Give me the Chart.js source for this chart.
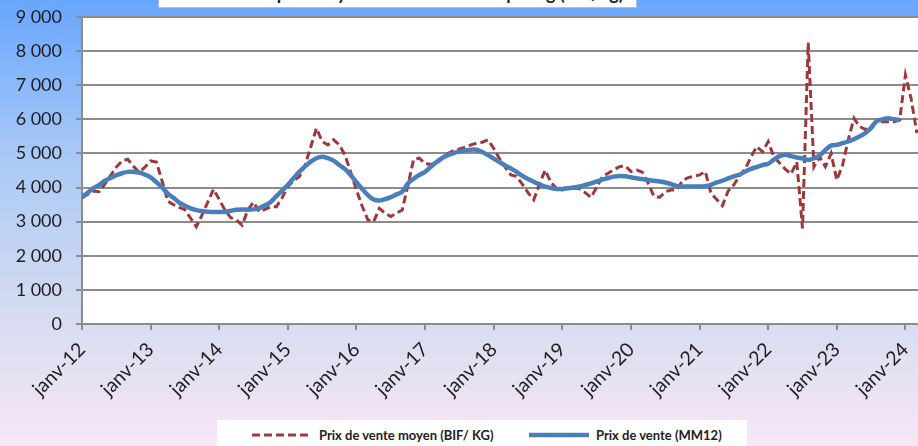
<!DOCTYPE html>
<html>
<head>
<meta charset="utf-8">
<script src="https://cdn.jsdelivr.net/npm/chart.js@4.4.0/dist/chart.umd.min.js"></script>
<style>
    html, body { margin: 0; padding: 0; }
    #cadre {
        position: relative; width: 918px; height: 446px; overflow: hidden;
        background: linear-gradient(to bottom, #68a6ff 0%, #a9c9f6 35%, #d6dcf0 70%, #f7e6f6 100%);
        font-family: Lato, "Open Sans", sans-serif;
    }
    #titre {
        position: absolute; left: 158px; top: -18px; width: 477px; height: 24px;
        background: #fff; border: 1px solid #9cc3f5; overflow: hidden;
        font: bold 18px Lato, sans-serif; line-height: 20px; text-align: center; color: #222;
        white-space: nowrap;
    }
    #graphique { position: absolute; left: 0; top: 0; }
    #legende {
        position: absolute; left: 217px; top: 420px; width: 530px; height: 40px;
        background: #fff; font: bold 13px Lato, sans-serif; color: #222;
    }
    #legende .item { position: absolute; top: 7px; display: flex; align-items: center; }
    #legende svg { margin-right: 7px; }
</style>
</head>
<body>
<div id="cadre">
    <div id="titre">Évolution du prix moyen de vente du café par kg (BIF/kg)</div>
    <canvas id="graphique" width="918" height="446"></canvas>
    <div id="legende">
        <div class="item" style="left:35px">
            <svg width="60" height="6"><line x1="0" y1="3" x2="60" y2="3" stroke="#9b3a3a" stroke-width="3" stroke-dasharray="8,4"/></svg>
            <span>Prix de vente moyen (BIF/ KG)</span>
        </div>
        <div class="item" style="left:312px">
            <svg width="60" height="6"><line x1="0" y1="3" x2="60" y2="3" stroke="#4a7ebb" stroke-width="4.5"/></svg>
            <span>Prix de vente (MM12)</span>
        </div>
    </div>
</div>
<script>
// --- Données (un point par mois, janv-12 -> mars-24) ---
const etiquettesJanv = ["janv-12", "janv-13", "janv-14", "janv-15", "janv-16", "janv-17", "janv-18",
                        "janv-19", "janv-20", "janv-21", "janv-22", "janv-23", "janv-24"];

const prixMoyen = [
    3700, 3800, 3900, 3880, 4100, 4350, 4600, 4780, 4830, 4620, 4450, 4600,   // 2012
    4780, 4750, 4200, 3600, 3500, 3420, 3350, 3100, 2850, 3200, 3570, 3950,   // 2013
    3650, 3340, 3120, 3050, 2900, 3340, 3570, 3290, 3360, 3440, 3440, 3700,   // 2014
    4030, 4200, 4320, 4650, 5190, 5740, 5350, 5250, 5400, 5250, 4950, 4440,   // 2015
    3930, 3450, 3050, 3000, 3390, 3250, 3150, 3250, 3340, 4070, 4830, 4860,   // 2016
    4700, 4680, 4710, 4850, 5000, 5080, 5130, 5180, 5250, 5300, 5330, 5400,   // 2017
    5150, 4850, 4600, 4370, 4330, 4100, 3850, 3640, 4100, 4510, 4150, 3970,   // 2018
    3930, 4000, 3990, 3970, 3850, 3710, 4000, 4320, 4420, 4520, 4610, 4640,   // 2019
    4470, 4510, 4450, 4130, 3750, 3710, 3880, 3930, 3930, 4200, 4290, 4330,   // 2020
    4370, 4470, 3830, 3650, 3470, 3900, 4080, 4350, 4550, 4900, 5200, 5050,   // 2021
    5350, 4900, 4720, 4540, 4400, 4750, 2800, 8250, 4610, 4900, 4610, 5000,   // 2022
    4220, 4650, 5400, 6030, 5790, 5700, 5800, 5930, 5930, 5930, 5930, 5980,   // 2023
    7300, 6600, 5600                                                          // 2024
];

const prixMM12 = [
    3715, 3850, 3980, 4075, 4200, 4280, 4360, 4420, 4460, 4460, 4440, 4380,   // 2012
    4300, 4160, 4010, 3820, 3700, 3560, 3470, 3390, 3340, 3310, 3290, 3285,   // 2013
    3285, 3290, 3320, 3350, 3360, 3350, 3360, 3400, 3480, 3580, 3750, 3910,   // 2014
    4080, 4270, 4460, 4620, 4760, 4860, 4900, 4860, 4790, 4660, 4540, 4360,   // 2015
    4160, 3960, 3780, 3650, 3620, 3660, 3720, 3800, 3880, 4120, 4260, 4370,   // 2016
    4460, 4610, 4750, 4870, 4950, 5010, 5060, 5090, 5110, 5110, 5040, 4950,   // 2017
    4850, 4750, 4650, 4560, 4460, 4340, 4250, 4170, 4090, 4030, 3990, 3960,   // 2018
    3960, 3980, 4000, 4030, 4075, 4120, 4180, 4230, 4280, 4320, 4340, 4330,   // 2019
    4300, 4270, 4250, 4220, 4200, 4180, 4150, 4100, 4050, 4030, 4030, 4030,   // 2020
    4030, 4040, 4080, 4150, 4200, 4270, 4330, 4380, 4470, 4550, 4600, 4660,   // 2021
    4700, 4820, 4920, 4960, 4920, 4880, 4850, 4810, 4860, 4940, 5100, 5230,   // 2022
    5250, 5300, 5350, 5420, 5500, 5600, 5750, 5950, 6000, 6030, 6000, 5980    // 2023
];

const enPoints = (serie) => serie.map((v, i) => ({ x: i, y: v }));
const formatMilliers = (v) => String(v).replace(/\B(?=(\d{3})+(?!\d))/g, " ");

// fond blanc de la zone de tracé
const fondBlanc = {
    id: "fondBlanc",
    beforeDraw(chart) {
        const { ctx, chartArea: a } = chart;
        ctx.save();
        ctx.fillStyle = "#fff";
        ctx.fillRect(a.left, a.top, a.right - a.left, a.bottom - a.top);
        ctx.restore();
    }
};

const gris = "#8c8c8c";

new Chart(document.getElementById("graphique"), {
    type: "line",
    data: {
        datasets: [
            {
                label: "Prix de vente (MM12)",
                data: enPoints(prixMM12),
                borderColor: "#4a7ebb",
                borderWidth: 4.5,
                tension: 0.4,
                pointRadius: 0,
                order: 0
            },
            {
                label: "Prix de vente moyen (BIF/ KG)",
                data: enPoints(prixMoyen),
                borderColor: "#9e383b",
                borderWidth: 3,
                borderDash: [8, 4],
                tension: 0,
                pointRadius: 0,
                order: 1
            }
        ]
    },
    options: {
        responsive: false,
        animation: false,
        devicePixelRatio: 1,
        layout: { padding: { top: 17, right: 0, left: 0, bottom: 0 } },
        plugins: { legend: { display: false }, tooltip: { enabled: false } },
        scales: {
            x: {
                type: "linear",
                min: 0,
                max: 146.2,
                grid: { drawOnChartArea: false, color: gris, lineWidth: 2, tickLength: 6 },
                border: { color: gris, width: 2 },
                ticks: {
                    stepSize: 12,
                    includeBounds: false,
                    autoSkip: false,
                    maxRotation: 45,
                    minRotation: 45,
                    padding: 8,
                    color: "#1e1e1e",
                    font: { family: "Lato", size: 19.5 },
                    callback: (v) => (v % 12 === 0 ? etiquettesJanv[v / 12] : "")
                },
                afterFit(scale) {
                    scale.height = 122;
                    scale.paddingLeft = 0;
                    scale.paddingRight = 0;
                }
            },
            y: {
                min: 0,
                max: 9000,
                grid: { color: gris, lineWidth: 2, tickLength: 6 },
                border: { color: gris, width: 2 },
                ticks: {
                    stepSize: 1000,
                    padding: 14,
                    color: "#1e1e1e",
                    font: { family: "Lato", size: 18 },
                    callback: (v) => formatMilliers(v)
                },
                afterFit(scale) {
                    scale.width = 82;
                    scale.paddingTop = 0;
                    scale.paddingBottom = 0;
                }
            }
        }
    },
    plugins: [fondBlanc]
});
</script>
</body>
</html>
